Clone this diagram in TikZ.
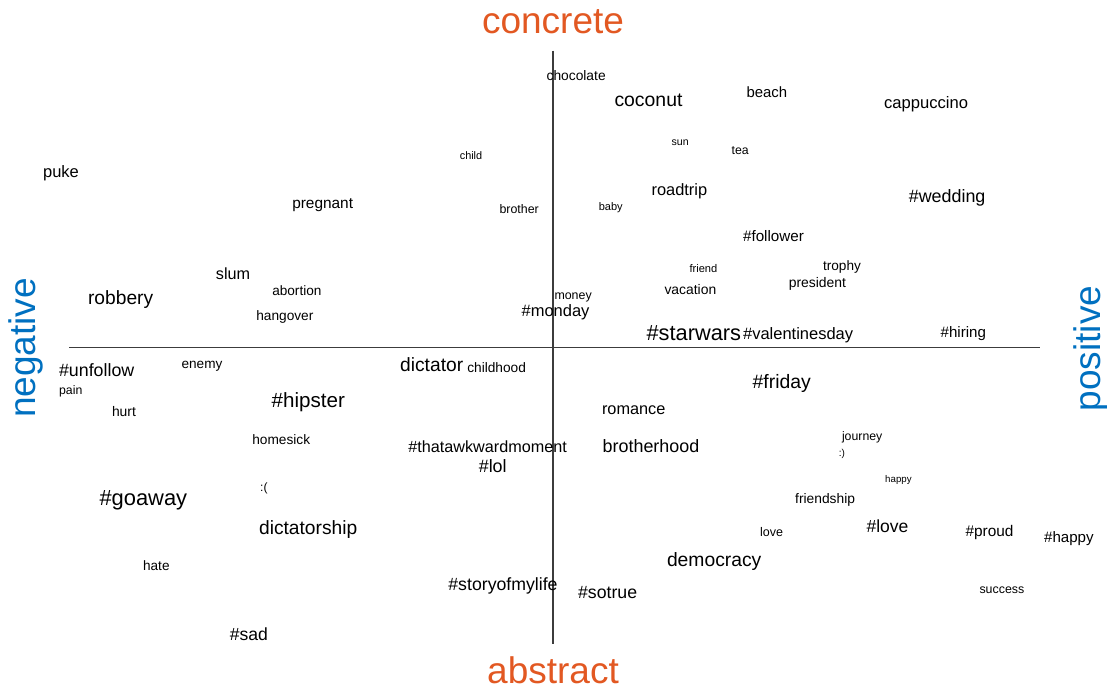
\documentclass[tikz,border=0pt]{standalone}
\usepackage{fontspec}
\setmainfont{Liberation Sans}
\usepackage{tikz}
\definecolor{poleorange}{RGB}{226,88,34}
\definecolor{poleblue}{RGB}{0,112,192}
\definecolor{axisgray}{RGB}{60,60,60}

\begin{document}
\begin{tikzpicture}[x=1pt, y=-1pt,
        term/.style = {anchor=base west,
            inner sep=0pt,
            font=\fontsize{#1}{#1}\selectfont},
        pole/.style = {anchor=base,
            inner sep=0pt,
            font=\fontsize{37}{37}\selectfont}]

    \useasboundingbox (0,0) rectangle (1107,689);

    % Axes
    \coordinate (top) at (553,50.5);
    \coordinate (bottom) at (553,644);
    \coordinate (left) at (69,347.3);
    \coordinate (right) at (1040,347.3);
    \draw[axisgray, line width=1.2pt] (top) -- (bottom);
    \draw[axisgray, line width=1.2pt] (left) -- (right);

    % Pole labels
    \node[pole, text=poleorange] (concrete) at (553,33.3) {concrete};
    \node[pole, text=poleorange] (abstract) at (553,683) {abstract};
    \node[pole, text=poleblue, rotate=90] (negative) at (35.5,348) {negative};
    \node[pole, text=poleblue, rotate=90] (positive) at (1100.5,348.5) {positive};

    % Upper left
    \node[term=16.5] (puke) at (42.9,177.3) {puke};
    \node[term=15.4] (pregnant) at (292.1,208.3) {pregnant};
    \node[term=10.9] (child) at (459.6,159.3) {child};
    \node[term=12.4] (brother) at (499.3,213.3) {brother};
    \node[term=16.2] (slum) at (215.7,279.3) {slum};
    \node[term=13.6] (abortion) at (272.1,295.7) {abortion};
    \node[term=19.2] (robbery) at (87.9,304) {robbery};
    \node[term=13.7] (hangover) at (256.1,320.7) {hangover};
    \node[term=16.5] (monday) at (521.4,316.7) {\#monday};

    % Upper right
    \node[term=13.8] (chocolate) at (546.4,80) {chocolate};
    \node[term=19.4] (coconut) at (614.3,106) {coconut};
    \node[term=14.9] (beach) at (746.4,97.3) {beach};
    \node[term=16.6] (cappuccino) at (883.9,108.3) {cappuccino};
    \node[term=10.6] (sun) at (671.4,145.3) {sun};
    \node[term=12.3] (tea) at (731.4,154) {tea};
    \node[term=16.4] (roadtrip) at (651.4,195.3) {roadtrip};
    \node[term=11] (baby) at (598.6,210) {baby};
    \node[term=17.9] (wedding) at (908.6,202) {\#wedding};
    \node[term=15.2] (follower) at (742.9,241) {\#follower};
    \node[term=11.1] (friend) at (689.3,272.7) {friend};
    \node[term=13.6] (trophy) at (822.9,270) {trophy};
    \node[term=13.9] (president) at (788.6,287.3) {president};
    \node[term=13.9] (vacation) at (664.3,294.3) {vacation};
    \node[term=12.4] (money) at (554.3,299) {money};
    \node[term=21.8] (starwars) at (646.4,340) {\#starwars};
    \node[term=16.5] (valentinesday) at (742.9,339.3) {\#valentinesday};
    \node[term=15.1] (hiring) at (940.4,337.3) {\#hiring};

    % Lower left
    \node[term=17.8] (unfollow) at (58.9,376.7) {\#unfollow};
    \node[term=13.6] (enemy) at (181.4,368) {enemy};
    \node[term=19.2] (dictator) at (400,371.3) {dictator};
    \node[term=13.7] (childhood) at (467.1,372.7) {childhood};
    \node[term=12.3] (pain) at (58.9,394.7) {pain};
    \node[term=13.9] (hurt) at (111.8,416) {hurt};
    \node[term=20.6] (hipster) at (271.4,407.3) {\#hipster};
    \node[term=13.7] (homesick) at (252.1,444.7) {homesick};
    \node[term=16.2] (awkward) at (408.2,452.7) {\#thatawkwardmoment};
    \node[term=17.9] (lol) at (478.6,472) {\#lol};
    \node[term=12] (frown) at (260,491.7) {:(};
    \node[term=21.9] (goaway) at (99.3,505) {\#goaway};
    \node[term=19.2] (dictatorship) at (258.9,534) {dictatorship};
    \node[term=13.6] (hate) at (142.9,570) {hate};
    \node[term=17.7] (storyofmylife) at (448.2,590.7) {\#storyofmylife};
    \node[term=17.6] (sad) at (229.6,640.7) {\#sad};

    % Lower right
    \node[term=19.4] (friday) at (752.5,388.3) {\#friday};
    \node[term=16.3] (romance) at (601.8,414) {romance};
    \node[term=17.9] (brotherhood) at (602.5,452) {brotherhood};
    \node[term=12.3] (journey) at (841.8,440) {journey};
    \node[term=10] (smile) at (838.6,456) {:)};
    \node[term=9.7] (happy) at (885,482.7) {happy};
    \node[term=13.8] (friendship) at (795,503.3) {friendship};
    \node[term=12.5] (love) at (760,536.7) {love};
    \node[term=17.5] (taglove) at (866.4,532.7) {\#love};
    \node[term=15.4] (proud) at (965.4,536.7) {\#proud};
    \node[term=15.1] (taghappy) at (1043.9,542.3) {\#happy};
    \node[term=19.3] (democracy) at (666.8,566.7) {democracy};
    \node[term=17.7] (sotrue) at (577.9,598.3) {\#sotrue};
    \node[term=12.4] (success) at (979.3,593.3) {success};

\end{tikzpicture}
\end{document}
